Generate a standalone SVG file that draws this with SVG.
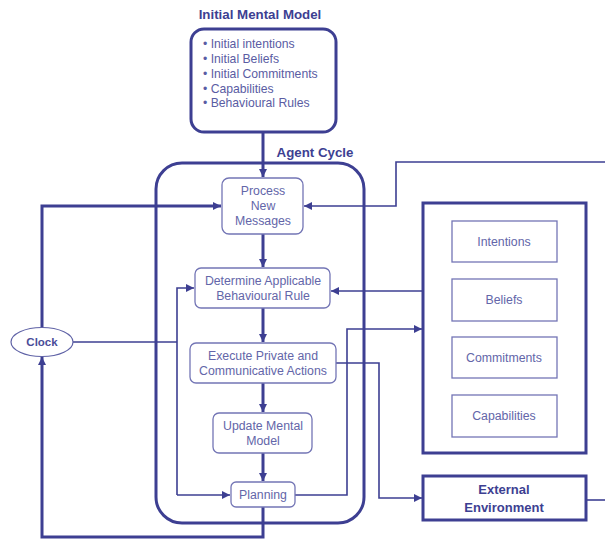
<svg xmlns="http://www.w3.org/2000/svg" width="605" height="539" viewBox="0 0 605 539">
  <defs>
    <marker id="arr" viewBox="0 0 8 8" refX="8" refY="4" markerWidth="8" markerHeight="8" markerUnits="userSpaceOnUse" orient="auto">
      <path d="M0,0 L8,4 L0,8 Z" fill="#3d3f92"/>
    </marker>
    <style>
      .thick { fill: none; stroke: #3d3f92; stroke-width: 3; }
      .thin { fill: none; stroke: #3d3f92; stroke-width: 1.6; }
      .step { fill: #ffffff; stroke: #7375b5; stroke-width: 1.3; }
      .store { fill: #ffffff; stroke: #7375b5; stroke-width: 1.3; }
      .title { font-family: "Liberation Sans", Arial, sans-serif; font-weight: bold; font-size: 13.3px; fill: #3d3f92; }
      .lbl { font-family: "Liberation Sans", Arial, sans-serif; font-size: 12.3px; fill: #6366a9; text-anchor: middle; }
      .bul { font-family: "Liberation Sans", Arial, sans-serif; font-size: 12.2px; fill: #5a5ca3; }
      .bold { font-family: "Liberation Sans", Arial, sans-serif; font-weight: bold; font-size: 13px; fill: #3d3f92; text-anchor: middle; }
    </style>
  </defs>
  <rect width="605" height="539" fill="#ffffff"/>

  <!-- connectors -->
  <g id="connectors">
    <!-- initial model into cycle -->
    <path class="thick" d="M263,132 V177" marker-end="url(#arr)"/>
    <!-- main cycle chain -->
    <path class="thick" d="M263,234 V267" marker-end="url(#arr)"/>
    <path class="thick" d="M263,308 V342" marker-end="url(#arr)"/>
    <path class="thick" d="M263,383 V412" marker-end="url(#arr)"/>
    <path class="thick" d="M263,453 V481" marker-end="url(#arr)"/>
    <!-- planning back to clock -->
    <path class="thick" d="M263,507 V537 H42 V357" marker-end="url(#arr)"/>
    <!-- clock to process new messages -->
    <path class="thick" d="M42,327 V206 H221" marker-end="url(#arr)"/>
    <!-- clock ticks into rule selection and planning -->
    <path class="thin" d="M73,342 H177"/>
    <path class="thin" d="M177,495 V288 H194" marker-end="url(#arr)"/>
    <path class="thin" d="M177,495 H230" marker-end="url(#arr)"/>
    <!-- incoming messages -->
    <path class="thin" d="M605,162 H396 V206 H304" marker-end="url(#arr)"/>
    <!-- mental state to rule selection -->
    <path class="thin" d="M423,291 H331" marker-end="url(#arr)"/>
    <!-- planning updates mental state -->
    <path class="thin" d="M295,495 H347 V329 H422" marker-end="url(#arr)"/>
    <!-- actions to environment -->
    <path class="thin" d="M336,363 H379 V498 H422" marker-end="url(#arr)"/>
    <!-- environment outwards -->
    <path class="thin" d="M586,500 H605"/>
  </g>

  <!-- initial mental model -->
  <g id="initial-model">
    <text class="title" x="260" y="19" text-anchor="middle">Initial Mental Model</text>
    <rect class="thick" x="191" y="29" width="145" height="103" rx="13"/>
    <text class="bul" x="203" y="48">• Initial intentions</text>
    <text class="bul" x="203" y="63">• Initial Beliefs</text>
    <text class="bul" x="203" y="78">• Initial Commitments</text>
    <text class="bul" x="203" y="93">• Capabilities</text>
    <text class="bul" x="203" y="107">• Behavioural Rules</text>
  </g>

  <!-- agent cycle frame -->
  <g id="agent-cycle">
    <text class="title" x="315" y="157" text-anchor="middle">Agent Cycle</text>
    <rect class="thick" x="156" y="163" width="208" height="360" rx="26"/>
  </g>

  <g id="process-messages">
    <rect class="step" x="222" y="178" width="81" height="56" rx="7"/>
    <text class="lbl" x="263" y="195">Process</text>
    <text class="lbl" x="263" y="210">New</text>
    <text class="lbl" x="263" y="225">Messages</text>
  </g>

  <g id="determine-rule">
    <rect class="step" x="195" y="268" width="135" height="40" rx="6"/>
    <text class="lbl" x="263" y="285">Determine Applicable</text>
    <text class="lbl" x="263" y="300">Behavioural Rule</text>
  </g>

  <g id="execute-actions">
    <rect class="step" x="190" y="343" width="146" height="40" rx="6"/>
    <text class="lbl" x="263" y="360">Execute Private and</text>
    <text class="lbl" x="263" y="375">Communicative Actions</text>
  </g>

  <g id="update-model">
    <rect class="step" x="213" y="413" width="99" height="40" rx="6"/>
    <text class="lbl" x="263" y="430">Update Mental</text>
    <text class="lbl" x="263" y="445">Model</text>
  </g>

  <g id="planning">
    <rect class="step" x="231" y="482" width="64" height="25" rx="5"/>
    <text class="lbl" x="263" y="499">Planning</text>
  </g>

  <g id="clock">
    <ellipse cx="42" cy="342" rx="31" ry="14.5" fill="#ffffff" stroke="#5f62a6" stroke-width="1.2"/>
    <text x="42" y="346" text-anchor="middle" font-family="Liberation Sans, Arial, sans-serif" font-weight="bold" font-size="11.5" fill="#4a4c99">Clock</text>
  </g>

  <!-- mental state store -->
  <g id="mental-state">
    <rect class="thick" x="423" y="203" width="163" height="250"/>
    <g id="intentions">
      <rect class="store" x="452" y="221" width="105" height="41"/>
      <text class="lbl" x="504" y="246">Intentions</text>
    </g>
    <g id="beliefs">
      <rect class="store" x="452" y="279" width="105" height="42"/>
      <text class="lbl" x="504" y="304">Beliefs</text>
    </g>
    <g id="commitments">
      <rect class="store" x="452" y="337" width="105" height="41"/>
      <text class="lbl" x="504" y="362">Commitments</text>
    </g>
    <g id="capabilities">
      <rect class="store" x="452" y="395" width="105" height="42"/>
      <text class="lbl" x="504" y="420">Capabilities</text>
    </g>
  </g>

  <g id="external-environment">
    <rect class="thick" x="423" y="476" width="163" height="44"/>
    <text class="bold" x="504" y="494">External</text>
    <text class="bold" x="504" y="512">Environment</text>
  </g>
</svg>
